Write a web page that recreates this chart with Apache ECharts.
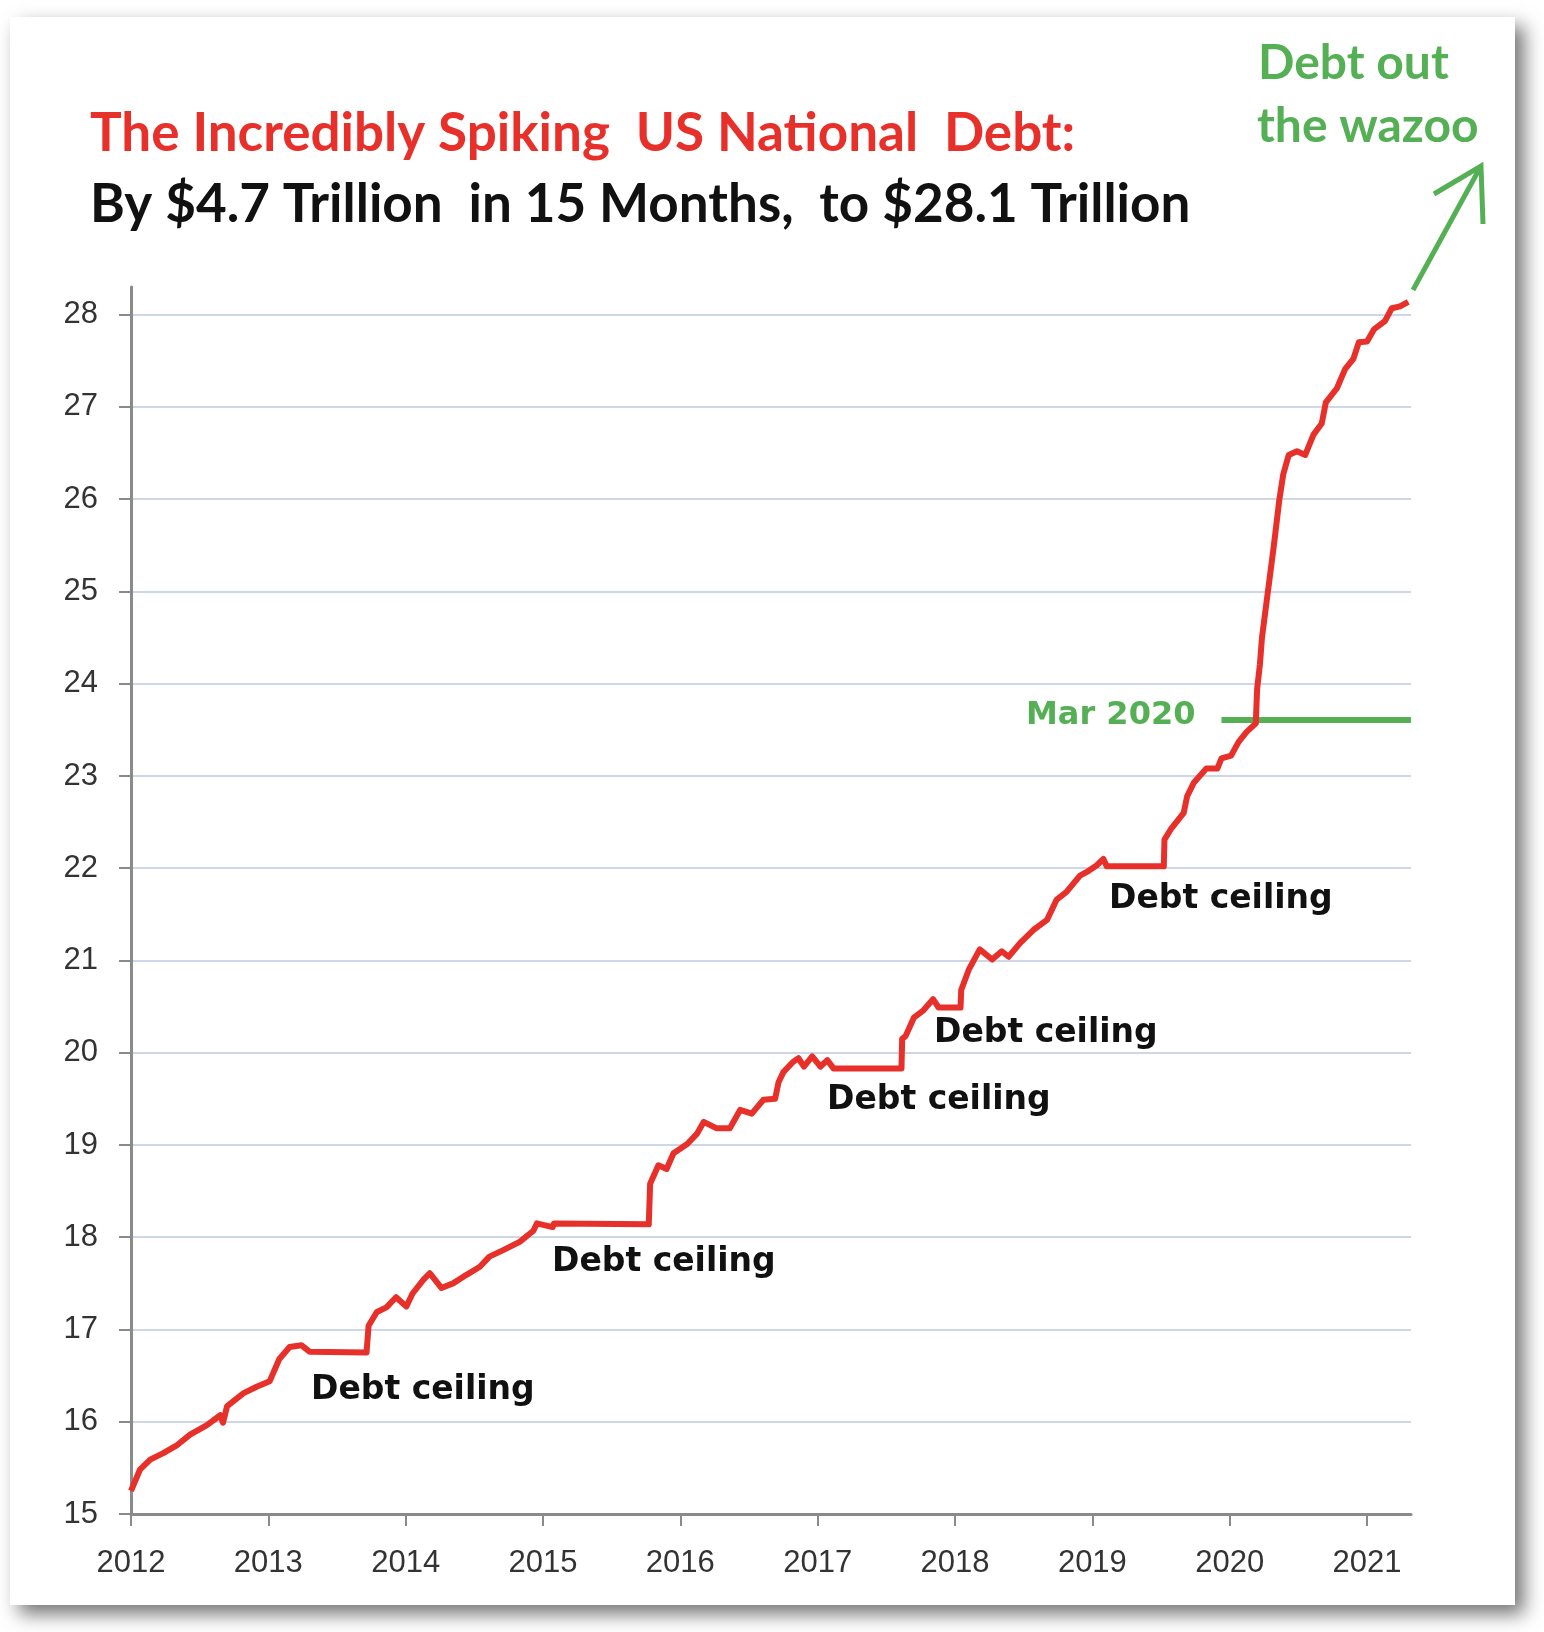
<!DOCTYPE html>
<html>
<head>
<meta charset="utf-8">
<title>US National Debt</title>
<script src="https://cdn.jsdelivr.net/npm/echarts@6/dist/echarts.min.js"></script>
<style>
  html, body { margin: 0; padding: 0; background: #fff; }
  #chart { width: 1544px; height: 1632px; }
</style>
</head>
<body>
<div id="chart"></div>
<script>
// 数据：年份（小数年）与国债总额（万亿美元）
const years = [
  2012.00, 2012.065, 2012.14, 2012.235, 2012.33, 2012.43, 2012.55, 2012.65, 2012.67, 2012.70,
  2012.82, 2012.915, 2013.01, 2013.08, 2013.155, 2013.24, 2013.30, 2013.715, 2013.73, 2013.79,
  2013.86, 2013.93, 2014.005, 2014.05, 2014.13, 2014.175, 2014.26, 2014.345, 2014.44, 2014.54,
  2014.61, 2014.71, 2014.83, 2014.93, 2014.955, 2015.07, 2015.08, 2015.77, 2015.78, 2015.84,
  2015.90, 2015.95, 2016.05, 2016.12, 2016.17, 2016.265, 2016.36, 2016.435, 2016.52, 2016.605,
  2016.69, 2016.715, 2016.75, 2016.82, 2016.86, 2016.90, 2016.96, 2017.02, 2017.07, 2017.115,
  2017.61, 2017.615, 2017.64, 2017.70, 2017.77, 2017.84, 2017.88, 2018.04, 2018.045, 2018.10,
  2018.18, 2018.27, 2018.34, 2018.39, 2018.475, 2018.57, 2018.67, 2018.74, 2018.81, 2018.91,
  2018.96, 2019.03, 2019.08, 2019.105, 2019.52, 2019.525, 2019.57, 2019.665, 2019.69, 2019.74,
  2019.83, 2019.91, 2019.94, 2020.01, 2020.065, 2020.125, 2020.19, 2020.195, 2020.20, 2020.22,
  2020.235, 2020.26, 2020.32, 2020.36, 2020.39, 2020.43, 2020.49, 2020.55, 2020.61, 2020.67,
  2020.70, 2020.78, 2020.84, 2020.90, 2020.94, 2021.00, 2021.05, 2021.13, 2021.18, 2021.24,
  2021.30
];
const debt = [
  15.25, 15.48, 15.59, 15.66, 15.74, 15.86, 15.96, 16.07, 15.99, 16.17,
  16.31, 16.38, 16.44, 16.68, 16.81, 16.83, 16.76, 16.75, 17.04, 17.19,
  17.24, 17.35, 17.25, 17.39, 17.54, 17.61, 17.45, 17.50, 17.59, 17.68,
  17.79, 17.86, 17.95, 18.07, 18.15, 18.11, 18.15, 18.14, 18.58, 18.78,
  18.74, 18.91, 19.01, 19.12, 19.25, 19.18, 19.18, 19.38, 19.34, 19.49,
  19.50, 19.68, 19.79, 19.90, 19.94, 19.85, 19.96, 19.85, 19.92, 19.83,
  19.83, 20.15, 20.18, 20.38, 20.46, 20.58, 20.49, 20.49, 20.68, 20.90,
  21.12, 21.01, 21.10, 21.04, 21.19, 21.33, 21.44, 21.66, 21.74, 21.92,
  21.96, 22.03, 22.10, 22.02, 22.02, 22.31, 22.42, 22.60, 22.78, 22.93,
  23.08, 23.08, 23.19, 23.22, 23.37, 23.48, 23.57, 23.77, 23.95, 24.21,
  24.50, 24.79, 25.48, 25.98, 26.27, 26.48, 26.52, 26.48, 26.70, 26.82,
  27.05, 27.20, 27.41, 27.52, 27.70, 27.71, 27.84, 27.93, 28.07, 28.09,
  28.14
];
const yearTicks = [2012, 2013, 2014, 2015, 2016, 2017, 2018, 2019, 2020, 2021];
const valueTicks = [15, 16, 17, 18, 19, 20, 21, 22, 23, 24, 25, 26, 27, 28];

// 2020年3月水平线
const marchLevel = 23.61;
const marchStart = 2019.94;

const titleText = 'The Incredibly Spiking  US National  Debt:';
const subtitleText = 'By $4.7 Trillion  in 15 Months,  to $28.1 Trillion';
const ceilingText = 'Debt ceiling';

const xMin = 2012, xMax = 2021.32;
const yMin = 15, yMax = 28.3;

const RED = '#e8302a';
const GREEN = '#55b055';
const AXIS_GREY = '#8a8a8a';
const GRID_BLUE = '#cdd7e8';

const chart = echarts.init(document.getElementById('chart'));

const seriesData = years.map((y, i) => [y, debt[i]]);

// 标注文字（像素位置）
const ceilingSpots = [[311, 1390], [552, 1262], [827, 1100], [934, 1033], [1109, 899]];

const labelFont = {
  fontFamily: 'DejaVu Sans',
  fontWeight: 'bold',
  fontSize: 33,
  fill: '#111',
  stroke: 'rgba(255,255,255,0.9)',
  lineWidth: 4
};

const graphics = [
  {
    type: 'rect',
    z: -10,
    silent: true,
    shape: { x: 10, y: 17, width: 1505, height: 1588 },
    style: {
      fill: '#fff',
      shadowBlur: 18,
      shadowOffsetX: 9,
      shadowOffsetY: 9,
      shadowColor: 'rgba(0,0,0,0.55)'
    }
  },
  {
    type: 'text', x: 90, y: 134, z: 10,
    style: { text: titleText, fill: RED, fontFamily: 'Lato', fontWeight: 'bold', fontSize: 53, verticalAlign: 'middle' }
  },
  {
    type: 'text', x: 90, y: 205, z: 10,
    style: { text: subtitleText, fill: '#111', fontFamily: 'Lato', fontWeight: 'bold', fontSize: 53, verticalAlign: 'middle' }
  },
  {
    type: 'text', x: 1258, y: 64, z: 10,
    style: { text: 'Debt out', fill: GREEN, fontFamily: 'Lato', fontWeight: 'bold', fontSize: 48, verticalAlign: 'middle' }
  },
  {
    type: 'text', x: 1257, y: 127, z: 10,
    style: { text: 'the wazoo', fill: GREEN, fontFamily: 'Lato', fontWeight: 'bold', fontSize: 48, verticalAlign: 'middle' }
  },
  {
    type: 'text', x: 1026, y: 716, z: 10,
    style: { text: 'Mar 2020', fill: GREEN, fontFamily: 'DejaVu Sans', fontWeight: 'bold', fontSize: 32, verticalAlign: 'middle' }
  },
  // 绿色箭头
  {
    type: 'polyline', z: 10,
    shape: { points: [[1413, 290], [1481, 166]] },
    style: { stroke: GREEN, lineWidth: 5, fill: null }
  },
  {
    type: 'polyline', z: 10,
    shape: { points: [[1434, 194], [1481, 166], [1483, 224]] },
    style: { stroke: GREEN, lineWidth: 5, fill: null, lineJoin: 'miter' }
  }
];

ceilingSpots.forEach(p => {
  graphics.push({
    type: 'text', x: p[0], y: p[1], z: 10,
    style: Object.assign({ text: ceilingText, verticalAlign: 'middle' }, labelFont)
  });
});

const option = {
  backgroundColor: '#fff',
  animation: false,
  grid: {
    left: 131,
    right: 133,
    top: 287,
    bottom: 118,
    containLabel: false,
    outerBoundsMode: 'none'
  },
  xAxis: {
    type: 'value',
    min: xMin,
    max: xMax,
    interval: 1,
    axisLine: { lineStyle: { color: AXIS_GREY, width: 3 } },
    axisTick: { length: 12, customValues: yearTicks, lineStyle: { color: AXIS_GREY, width: 2 } },
    axisLabel: {
      customValues: yearTicks,
      formatter: v => String(v),
      margin: 34,
      fontFamily: 'Liberation Sans',
      fontSize: 31,
      color: '#333'
    },
    splitLine: { show: false }
  },
  yAxis: {
    type: 'value',
    min: yMin,
    max: yMax,
    interval: 1,
    axisLine: { show: true, lineStyle: { color: AXIS_GREY, width: 3 } },
    axisTick: { show: true, length: 12, customValues: valueTicks, lineStyle: { color: AXIS_GREY, width: 2 } },
    axisLabel: {
      customValues: valueTicks,
      formatter: v => String(v),
      margin: 33,
      fontFamily: 'Liberation Sans',
      fontSize: 31,
      color: '#333'
    },
    splitLine: { show: true, customValues: valueTicks, lineStyle: { color: GRID_BLUE, width: 2 } }
  },
  series: [
    {
      name: 'US National Debt',
      type: 'line',
      data: seriesData,
      showSymbol: false,
      symbol: 'none',
      clip: false,
      lineStyle: { color: RED, width: 6, join: 'round' },
      z: 5,
      markLine: {
        silent: true,
        symbol: 'none',
        label: { show: false },
        lineStyle: { color: GREEN, width: 6, type: 'solid' },
        data: [
          [ { coord: [marchStart, marchLevel] }, { coord: [xMax, marchLevel] } ]
        ]
      }
    }
  ],
  graphic: graphics
};

chart.setOption(option);
</script>
</body>
</html>
